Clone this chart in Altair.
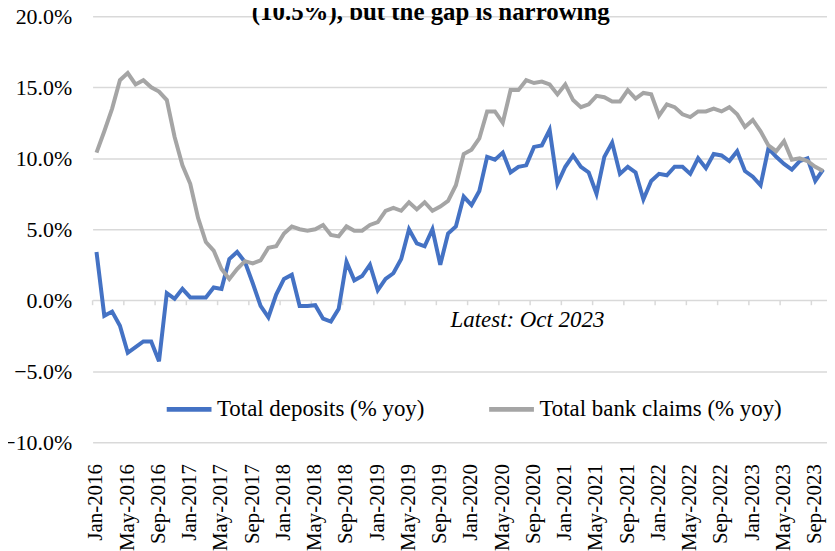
import altair as alt
import pandas as pd

tick_labels = ["Jan-2016", "May-2016", "Sep-2016", "Jan-2017", "May-2017", "Sep-2017",
               "Jan-2018", "May-2018", "Sep-2018", "Jan-2019", "May-2019", "Sep-2019",
               "Jan-2020", "May-2020", "Sep-2020", "Jan-2021", "May-2021", "Sep-2021",
               "Jan-2022", "May-2022", "Sep-2022", "Jan-2023", "May-2023", "Sep-2023"]

deposits = [3.4, -1.1, -0.8, -1.8, -3.7, -3.3, -2.9, -2.9, -4.3, 0.5,
            0.1, 0.8, 0.2, 0.2, 0.2, 0.9, 0.8, 2.9, 3.4, 2.7,
            1.2, -0.4, -1.2, 0.4, 1.5, 1.8, -0.4, -0.4, -0.35, -1.3,
            -1.5, -0.6, 2.7, 1.4, 1.7, 2.5, 0.7, 1.5, 1.9, 2.9,
            5.0, 4.0, 3.8, 5.0, 2.5, 4.7, 5.2, 7.3, 6.7, 7.7,
            10.1, 9.9, 10.4, 9.0, 9.4, 9.5, 10.8, 10.9, 12.0, 8.2,
            9.4, 10.2, 9.4, 9.0, 7.5, 10.1, 11.1, 8.9, 9.4, 9.0,
            7.1, 8.4, 8.9, 8.8, 9.4, 9.4, 8.9, 10.0, 9.3, 10.3,
            10.2, 9.8, 10.5, 9.1, 8.7, 8.1, 10.7, 10.1, 9.6, 9.2,
            9.8, 10.0, 8.4, 9.2]

claims = [10.4, 11.9, 13.5, 15.5, 16.0, 15.2, 15.5, 15.0, 14.7, 14.1,
          11.5, 9.5, 8.2, 5.8, 4.1, 3.5, 2.2, 1.5, 2.2, 2.75,
          2.6, 2.8, 3.7, 3.8, 4.7, 5.2, 5.0, 4.9, 5.0, 5.3,
          4.6, 4.5, 5.2, 4.9, 4.9, 5.3, 5.5, 6.3, 6.5, 6.3,
          6.9, 6.4, 6.9, 6.3, 6.6, 7.0, 8.1, 10.3, 10.6, 11.4,
          13.3, 13.3, 12.5, 14.8, 14.8, 15.5, 15.3, 15.4, 15.2, 14.5,
          15.2, 14.1, 13.6, 13.8, 14.4, 14.3, 14.0, 14.0, 14.8, 14.2,
          14.6, 14.5, 13.0, 13.8, 13.6, 13.1, 12.9, 13.3, 13.3, 13.5,
          13.3, 13.6, 13.1, 12.2, 12.7, 11.9, 10.9, 10.5, 11.2, 9.9,
          10.0, 9.8, 9.4, 9.1]

series_names = ["Total deposits (% yoy)", "Total bank claims (% yoy)"]
series_colors = ["#4472C4", "#A5A5A5"]
title_text = "(10.5%), but the gap is narrowing"
note_text = "Latest: Oct 2023"

rows = []
for name, vals in zip(series_names, [deposits, claims]):
    for i, v in enumerate(vals):
        rows.append({"idx": i, "series": name, "value": v})
df = pd.DataFrame(rows)

n = len(deposits)
label_df = pd.DataFrame({"pos": list(range(0, n, 4)), "label": tick_labels})
tick_df = pd.DataFrame({"pos": [i - 0.5 for i in range(0, n, 4)], "y0": 0.0, "y1": -0.35})

FONT = "Liberation Serif"
W, H = 738, 428

xscale = alt.Scale(domain=[-0.5, n - 0.5], nice=False, zero=False)
yscale = alt.Scale(domain=[-10, 20], nice=False)

lines = alt.Chart(df).mark_line(strokeWidth=4).encode(
    x=alt.X("idx:Q", scale=xscale,
            axis=alt.Axis(labels=False, domain=False, ticks=False, grid=False, title=None)),
    y=alt.Y("value:Q", scale=yscale,
            axis=alt.Axis(values=[-10, -5, 0, 5, 10, 15, 20],
                          labelExpr="format(datum.value, '.1f') + '%'",
                          labelFont=FONT, labelFontSize=22, labelColor="black",
                          labelPadding=21, domain=False, ticks=False,
                          grid=True, gridColor="#d9d9d9", gridWidth=1.5, title=None)),
    color=alt.Color("series:N",
                    scale=alt.Scale(domain=series_names, range=series_colors),
                    sort=series_names,
                    legend=alt.Legend(orient="none", legendX=72, legendY=370,
                                      direction="horizontal", title=None,
                                      symbolType="stroke", symbolStrokeWidth=5,
                                      symbolSize=2025, labelFont=FONT, labelFontSize=23,
                                      labelColor="black", labelOffset=3, labelLimit=0,
                                      columnPadding=54, padding=0)),
    order=alt.Order("idx:Q"),
)

ticks = alt.Chart(tick_df).mark_rule(color="#d9d9d9", strokeWidth=1.5).encode(
    x=alt.X("pos:Q", scale=xscale),
    y=alt.Y("y0:Q", scale=yscale),
    y2="y1:Q",
)

xlabels = alt.Chart(label_df).mark_text(
    angle=270, align="right", baseline="middle", font=FONT, fontSize=21, color="black"
).encode(x=alt.X("pos:Q", scale=xscale), y=alt.value(H + 22), text="label:N")

title = alt.Chart(pd.DataFrame({"t": [title_text]})).mark_text(
    align="left", baseline="alphabetic", font=FONT, fontSize=25, fontWeight="bold", color="black"
).encode(x=alt.value(160), y=alt.value(4), text="t:N")

note = alt.Chart(pd.DataFrame({"t": [note_text]})).mark_text(
    align="center", baseline="middle", font=FONT, fontSize=23, fontStyle="italic", color="black"
).encode(x=alt.value(437), y=alt.value(305), text="t:N")

chart = alt.layer(ticks, lines, xlabels, note, title).properties(
    width=W, height=H,
    autosize=alt.AutoSizeParams(type="none"),
    padding={"left": 85, "top": 7, "right": 0, "bottom": 108},
    background="white",
).configure_view(stroke=None)

chart.save("out.html", embed_options={"renderer": "svg", "actions": False})
